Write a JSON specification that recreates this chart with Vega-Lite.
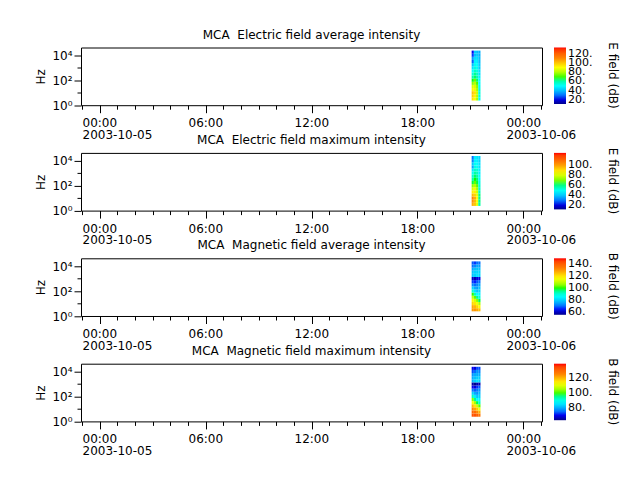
{
  "$schema": "https://vega.github.io/schema/vega-lite/v6.json",
  "padding": {"left": 34, "top": 27.5, "right": 5, "bottom": 5},
  "config": {
    "font": "DejaVu Sans",
    "view": {"stroke": "black", "strokeWidth": 1},
    "title": {"fontSize": 12, "fontWeight": "normal", "color": "black", "offset": 6},
    "axis": {"labelColor": "black", "tickColor": "black", "titleColor": "black", "labelFontSize": 12, "titleFontSize": 12, "titleFontWeight": "normal", "grid": false, "domain": false, "tickWidth": 1},
    "legend": {"orient": "right", "offset": 12, "padding": 0, "direction": "vertical", "gradientLength": 56.5, "gradientThickness": 12, "gradientStrokeWidth": 0, "labelFontSize": 11, "labelColor": "black", "labelOffset": 10, "labelOverlap": false, "titleOrient": "right", "titleFontSize": 12, "titleFontWeight": "normal", "titleColor": "black", "titleAnchor": "middle", "titlePadding": 14}
  },
  "datasets": {
    "chan": [
      {"ch": "c01", "flo": 2.371, "fhi": 4.217},
      {"ch": "c02", "flo": 4.217, "fhi": 7.499},
      {"ch": "c03", "flo": 7.499, "fhi": 13.34},
      {"ch": "c04", "flo": 13.34, "fhi": 23.71},
      {"ch": "c05", "flo": 23.71, "fhi": 42.17},
      {"ch": "c06", "flo": 42.17, "fhi": 74.99},
      {"ch": "c07", "flo": 74.99, "fhi": 133.4},
      {"ch": "c08", "flo": 133.4, "fhi": 237.1},
      {"ch": "c09", "flo": 237.1, "fhi": 421.7},
      {"ch": "c10", "flo": 421.7, "fhi": 749.9},
      {"ch": "c11", "flo": 749.9, "fhi": 1334},
      {"ch": "c12", "flo": 1334, "fhi": 2371},
      {"ch": "c13", "flo": 2371, "fhi": 4217},
      {"ch": "c14", "flo": 4217, "fhi": 7499},
      {"ch": "c15", "flo": 7499, "fhi": 13335},
      {"ch": "c16", "flo": 13335, "fhi": 23714}
    ],
    "eavg": [
      {"t0": "2003-10-05T21:04:00Z", "t1": "2003-10-05T21:11:30Z", "c01": 95, "c02": 98, "c03": 100, "c04": 92, "c05": 85, "c06": 75, "c07": 68, "c08": 60, "c09": 55, "c10": 50, "c11": 45, "c12": 40, "c13": 28, "c14": 35, "c15": 25, "c16": 22},
      {"t0": "2003-10-05T21:11:30Z", "t1": "2003-10-05T21:19:00Z", "c01": 90, "c02": 92, "c03": 95, "c04": 88, "c05": 85, "c06": 80, "c07": 72, "c08": 65, "c09": 62, "c10": 58, "c11": 55, "c12": 52, "c13": 48, "c14": 45, "c15": 40, "c16": 42},
      {"t0": "2003-10-05T21:19:00Z", "t1": "2003-10-05T21:26:30Z", "c01": 78, "c02": 80, "c03": 82, "c04": 78, "c05": 75, "c06": 70, "c07": 65, "c08": 60, "c09": 58, "c10": 55, "c11": 52, "c12": 50, "c13": 47, "c14": 45, "c15": 42, "c16": 40},
      {"t0": "2003-10-05T21:26:30Z", "t1": "2003-10-05T21:34:00Z", "c01": 52, "c02": 55, "c03": 55, "c04": 55, "c05": 52, "c06": 50, "c07": 50, "c08": 48, "c09": 45, "c10": 45, "c11": 42, "c12": 42, "c13": 40, "c14": 40, "c15": 38, "c16": 38}
    ],
    "emax": [
      {"t0": "2003-10-05T21:04:00Z", "t1": "2003-10-05T21:11:30Z", "c01": 98, "c02": 102, "c03": 104, "c04": 96, "c05": 88, "c06": 80, "c07": 72, "c08": 64, "c09": 58, "c10": 54, "c11": 50, "c12": 45, "c13": 36, "c14": 40, "c15": 32, "c16": 30},
      {"t0": "2003-10-05T21:11:30Z", "t1": "2003-10-05T21:19:00Z", "c01": 94, "c02": 96, "c03": 98, "c04": 92, "c05": 88, "c06": 84, "c07": 76, "c08": 68, "c09": 65, "c10": 62, "c11": 58, "c12": 55, "c13": 52, "c14": 50, "c15": 46, "c16": 46},
      {"t0": "2003-10-05T21:19:00Z", "t1": "2003-10-05T21:26:30Z", "c01": 82, "c02": 84, "c03": 86, "c04": 82, "c05": 78, "c06": 74, "c07": 68, "c08": 64, "c09": 62, "c10": 58, "c11": 56, "c12": 54, "c13": 50, "c14": 48, "c15": 46, "c16": 44},
      {"t0": "2003-10-05T21:26:30Z", "t1": "2003-10-05T21:34:00Z", "c01": 58, "c02": 60, "c03": 60, "c04": 60, "c05": 56, "c06": 55, "c07": 54, "c08": 52, "c09": 50, "c10": 48, "c11": 46, "c12": 46, "c13": 44, "c14": 44, "c15": 42, "c16": 42}
    ],
    "bavg": [
      {"t0": "2003-10-05T21:04:00Z", "t1": "2003-10-05T21:11:30Z", "c01": 130, "c02": 128, "c03": 122, "c04": 118, "c05": 110, "c06": 100, "c07": 90, "c08": 80, "c09": 72, "c10": 66, "c11": 60, "c12": 78, "c13": 78, "c14": 75, "c15": 70, "c16": 68},
      {"t0": "2003-10-05T21:11:30Z", "t1": "2003-10-05T21:19:00Z", "c01": 130, "c02": 126, "c03": 120, "c04": 112, "c05": 102, "c06": 92, "c07": 82, "c08": 76, "c09": 70, "c10": 65, "c11": 58, "c12": 80, "c13": 80, "c14": 78, "c15": 72, "c16": 66},
      {"t0": "2003-10-05T21:19:00Z", "t1": "2003-10-05T21:26:30Z", "c01": 128, "c02": 122, "c03": 115, "c04": 105, "c05": 95, "c06": 85, "c07": 78, "c08": 74, "c09": 72, "c10": 68, "c11": 62, "c12": 82, "c13": 80, "c14": 78, "c15": 75, "c16": 70},
      {"t0": "2003-10-05T21:26:30Z", "t1": "2003-10-05T21:34:00Z", "c01": 125, "c02": 118, "c03": 108, "c04": 98, "c05": 90, "c06": 84, "c07": 80, "c08": 78, "c09": 75, "c10": 70, "c11": 62, "c12": 80, "c13": 80, "c14": 78, "c15": 74, "c16": 70}
    ],
    "bmax": [
      {"t0": "2003-10-05T21:04:00Z", "t1": "2003-10-05T21:11:30Z", "c01": 133, "c02": 130, "c03": 125, "c04": 120, "c05": 112, "c06": 103, "c07": 93, "c08": 83, "c09": 76, "c10": 70, "c11": 65, "c12": 80, "c13": 80, "c14": 78, "c15": 73, "c16": 70},
      {"t0": "2003-10-05T21:11:30Z", "t1": "2003-10-05T21:19:00Z", "c01": 133, "c02": 129, "c03": 122, "c04": 115, "c05": 105, "c06": 95, "c07": 86, "c08": 80, "c09": 74, "c10": 69, "c11": 63, "c12": 83, "c13": 82, "c14": 80, "c15": 75, "c16": 69},
      {"t0": "2003-10-05T21:19:00Z", "t1": "2003-10-05T21:26:30Z", "c01": 131, "c02": 125, "c03": 118, "c04": 108, "c05": 98, "c06": 88, "c07": 82, "c08": 78, "c09": 76, "c10": 72, "c11": 66, "c12": 85, "c13": 83, "c14": 80, "c15": 78, "c16": 73},
      {"t0": "2003-10-05T21:26:30Z", "t1": "2003-10-05T21:34:00Z", "c01": 128, "c02": 121, "c03": 111, "c04": 101, "c05": 93, "c06": 87, "c07": 83, "c08": 81, "c09": 78, "c10": 74, "c11": 66, "c12": 83, "c13": 83, "c14": 80, "c15": 77, "c16": 73}
    ]
  },
  "bounds": "flush",
  "spacing": 47.4,
  "resolve": {"scale": {"x": "independent", "y": "independent", "color": "independent"}, "legend": {"color": "independent"}},
  "vconcat": [
    {
      "title": "MCA\u00a0 Electric field average intensity",
      "width": 461, "height": 57.7,
      "data": {"name": "eavg"},
      "transform": [
        {"fold": ["c01","c02","c03","c04","c05","c06","c07","c08","c09","c10","c11","c12","c13","c14","c15","c16"], "as": ["ch", "v"]},
        {"lookup": "ch", "from": {"data": {"name": "chan"}, "key": "ch", "fields": ["flo", "fhi"]}}
      ],
      "layer": [
        {
          "mark": {"type": "rect"},
          "encoding": {
            "x": {"field": "t0", "type": "temporal", "scale": {"type": "utc", "nice": false, "domain": [1065308220000, 1065402180000]},
                  "axis": {"orient": "bottom", "title": null, "values": [1065312000000, 1065333600000, 1065355200000, 1065376800000, 1065398400000], "tickSize": 7.5, "labelAlign": "left", "labelOffset": -17.5, "labelBaseline": "top", "labelPadding": 5, "labelFlush": false, "labelOverlap": false, "labelExpr": "utcFormat(datum.value, '%H:%M')"}},
            "x2": {"field": "t1"},
            "y": {"field": "flo", "type": "quantitative", "scale": {"type": "log", "domain": [1, 42000], "nice": false},
                  "axis": {"orient": "left", "title": "Hz", "values": [1, 100, 10000], "tickSize": 7, "labelPadding": 2, "titlePadding": 4, "labelExpr": "datum.value == 1 ? '10⁰' : datum.value == 100 ? '10²' : '10⁴'"}},
            "y2": {"field": "fhi"},
            "color": {"field": "v", "type": "quantitative",
                      "scale": {"clamp": true, "domain": [11, 23.2, 50.0, 68.3, 90.3, 111.0, 133], "range": ["#00008c", "#0000ff", "#00ffff", "#00ff00", "#ffff00", "#ff8000", "#ff0000"]},
                      "legend": {"type": "gradient", "title": "E field (dB)", "values": [20, 40, 60, 80, 100, 120], "labelExpr": "datum.label + '.'"}}
          }
        },
        {
          "mark": {"type": "rect", "opacity": 0},
          "encoding": {
            "x": {"field": "t0", "type": "temporal", "scale": {"type": "utc", "nice": false, "domain": [1065308220000, 1065402180000]},
                  "axis": {"orient": "bottom", "title": null, "values": [1065308400000, 1065312000000, 1065315600000, 1065319200000, 1065322800000, 1065326400000, 1065330000000, 1065333600000, 1065337200000, 1065340800000, 1065344400000, 1065348000000, 1065351600000, 1065355200000, 1065358800000, 1065362400000, 1065366000000, 1065369600000, 1065373200000, 1065376800000, 1065380400000, 1065384000000, 1065387600000, 1065391200000, 1065394800000, 1065398400000, 1065402000000], "tickSize": 4, "labelAlign": "left", "labelOffset": -17.5, "labelBaseline": "top", "labelPadding": 20, "labelFlush": false, "labelOverlap": false, "labelExpr": "utchours(datum.value) == 0 ? utcFormat(datum.value, '%Y-%m-%d') : ''"}},
            "x2": {"field": "t1"},
            "y": {"field": "flo", "type": "quantitative", "scale": {"type": "log", "domain": [1, 42000], "nice": false},
                  "axis": {"orient": "left", "title": null, "values": [10, 1000], "tickSize": 4, "labels": false}},
            "y2": {"field": "fhi"}
          }
        }
      ],
      "resolve": {"axis": {"x": "independent", "y": "independent"}}
    },
    {
      "title": "MCA\u00a0 Electric field maximum intensity",
      "width": 461, "height": 57.7,
      "data": {"name": "emax"},
      "transform": [
        {"fold": ["c01","c02","c03","c04","c05","c06","c07","c08","c09","c10","c11","c12","c13","c14","c15","c16"], "as": ["ch", "v"]},
        {"lookup": "ch", "from": {"data": {"name": "chan"}, "key": "ch", "fields": ["flo", "fhi"]}}
      ],
      "layer": [
        {
          "mark": {"type": "rect"},
          "encoding": {
            "x": {"field": "t0", "type": "temporal", "scale": {"type": "utc", "nice": false, "domain": [1065308220000, 1065402180000]},
                  "axis": {"orient": "bottom", "title": null, "values": [1065312000000, 1065333600000, 1065355200000, 1065376800000, 1065398400000], "tickSize": 7.5, "labelAlign": "left", "labelOffset": -17.5, "labelBaseline": "top", "labelPadding": 5, "labelFlush": false, "labelOverlap": false, "labelExpr": "utcFormat(datum.value, '%H:%M')"}},
            "x2": {"field": "t1"},
            "y": {"field": "flo", "type": "quantitative", "scale": {"type": "log", "domain": [1, 42000], "nice": false},
                  "axis": {"orient": "left", "title": "Hz", "values": [1, 100, 10000], "tickSize": 7, "labelPadding": 2, "titlePadding": 4, "labelExpr": "datum.value == 1 ? '10⁰' : datum.value == 100 ? '10²' : '10⁴'"}},
            "y2": {"field": "fhi"},
            "color": {"field": "v", "type": "quantitative",
                      "scale": {"clamp": true, "domain": [12, 23.3, 48.2, 65.1, 85.5, 104.7, 125], "range": ["#00008c", "#0000ff", "#00ffff", "#00ff00", "#ffff00", "#ff8000", "#ff0000"]},
                      "legend": {"type": "gradient", "title": "E field (dB)", "values": [20, 40, 60, 80, 100], "labelExpr": "datum.label + '.'"}}
          }
        },
        {
          "mark": {"type": "rect", "opacity": 0},
          "encoding": {
            "x": {"field": "t0", "type": "temporal", "scale": {"type": "utc", "nice": false, "domain": [1065308220000, 1065402180000]},
                  "axis": {"orient": "bottom", "title": null, "values": [1065308400000, 1065312000000, 1065315600000, 1065319200000, 1065322800000, 1065326400000, 1065330000000, 1065333600000, 1065337200000, 1065340800000, 1065344400000, 1065348000000, 1065351600000, 1065355200000, 1065358800000, 1065362400000, 1065366000000, 1065369600000, 1065373200000, 1065376800000, 1065380400000, 1065384000000, 1065387600000, 1065391200000, 1065394800000, 1065398400000, 1065402000000], "tickSize": 4, "labelAlign": "left", "labelOffset": -17.5, "labelBaseline": "top", "labelPadding": 20, "labelFlush": false, "labelOverlap": false, "labelExpr": "utchours(datum.value) == 0 ? utcFormat(datum.value, '%Y-%m-%d') : ''"}},
            "x2": {"field": "t1"},
            "y": {"field": "flo", "type": "quantitative", "scale": {"type": "log", "domain": [1, 42000], "nice": false},
                  "axis": {"orient": "left", "title": null, "values": [10, 1000], "tickSize": 4, "labels": false}},
            "y2": {"field": "fhi"}
          }
        }
      ],
      "resolve": {"axis": {"x": "independent", "y": "independent"}}
    },
    {
      "title": "MCA\u00a0 Magnetic field average intensity",
      "width": 461, "height": 57.7,
      "data": {"name": "bavg"},
      "transform": [
        {"fold": ["c01","c02","c03","c04","c05","c06","c07","c08","c09","c10","c11","c12","c13","c14","c15","c16"], "as": ["ch", "v"]},
        {"lookup": "ch", "from": {"data": {"name": "chan"}, "key": "ch", "fields": ["flo", "fhi"]}}
      ],
      "layer": [
        {
          "mark": {"type": "rect"},
          "encoding": {
            "x": {"field": "t0", "type": "temporal", "scale": {"type": "utc", "nice": false, "domain": [1065308220000, 1065402180000]},
                  "axis": {"orient": "bottom", "title": null, "values": [1065312000000, 1065333600000, 1065355200000, 1065376800000, 1065398400000], "tickSize": 7.5, "labelAlign": "left", "labelOffset": -17.5, "labelBaseline": "top", "labelPadding": 5, "labelFlush": false, "labelOverlap": false, "labelExpr": "utcFormat(datum.value, '%H:%M')"}},
            "x2": {"field": "t1"},
            "y": {"field": "flo", "type": "quantitative", "scale": {"type": "log", "domain": [1, 42000], "nice": false},
                  "axis": {"orient": "left", "title": "Hz", "values": [1, 100, 10000], "tickSize": 7, "labelPadding": 2, "titlePadding": 4, "labelExpr": "datum.value == 1 ? '10⁰' : datum.value == 100 ? '10²' : '10⁴'"}},
            "y2": {"field": "fhi"},
            "color": {"field": "v", "type": "quantitative",
                      "scale": {"clamp": true, "domain": [55, 64.5, 85.4, 99.7, 116.8, 132.9, 150], "range": ["#00008c", "#0000ff", "#00ffff", "#00ff00", "#ffff00", "#ff8000", "#ff0000"]},
                      "legend": {"type": "gradient", "title": "B field (dB)", "values": [60, 80, 100, 120, 140], "labelExpr": "datum.label + '.'"}}
          }
        },
        {
          "mark": {"type": "rect", "opacity": 0},
          "encoding": {
            "x": {"field": "t0", "type": "temporal", "scale": {"type": "utc", "nice": false, "domain": [1065308220000, 1065402180000]},
                  "axis": {"orient": "bottom", "title": null, "values": [1065308400000, 1065312000000, 1065315600000, 1065319200000, 1065322800000, 1065326400000, 1065330000000, 1065333600000, 1065337200000, 1065340800000, 1065344400000, 1065348000000, 1065351600000, 1065355200000, 1065358800000, 1065362400000, 1065366000000, 1065369600000, 1065373200000, 1065376800000, 1065380400000, 1065384000000, 1065387600000, 1065391200000, 1065394800000, 1065398400000, 1065402000000], "tickSize": 4, "labelAlign": "left", "labelOffset": -17.5, "labelBaseline": "top", "labelPadding": 20, "labelFlush": false, "labelOverlap": false, "labelExpr": "utchours(datum.value) == 0 ? utcFormat(datum.value, '%Y-%m-%d') : ''"}},
            "x2": {"field": "t1"},
            "y": {"field": "flo", "type": "quantitative", "scale": {"type": "log", "domain": [1, 42000], "nice": false},
                  "axis": {"orient": "left", "title": null, "values": [10, 1000], "tickSize": 4, "labels": false}},
            "y2": {"field": "fhi"}
          }
        }
      ],
      "resolve": {"axis": {"x": "independent", "y": "independent"}}
    },
    {
      "title": "MCA\u00a0 Magnetic field maximum intensity",
      "width": 461, "height": 57.7,
      "data": {"name": "bmax"},
      "transform": [
        {"fold": ["c01","c02","c03","c04","c05","c06","c07","c08","c09","c10","c11","c12","c13","c14","c15","c16"], "as": ["ch", "v"]},
        {"lookup": "ch", "from": {"data": {"name": "chan"}, "key": "ch", "fields": ["flo", "fhi"]}}
      ],
      "layer": [
        {
          "mark": {"type": "rect"},
          "encoding": {
            "x": {"field": "t0", "type": "temporal", "scale": {"type": "utc", "nice": false, "domain": [1065308220000, 1065402180000]},
                  "axis": {"orient": "bottom", "title": null, "values": [1065312000000, 1065333600000, 1065355200000, 1065376800000, 1065398400000], "tickSize": 7.5, "labelAlign": "left", "labelOffset": -17.5, "labelBaseline": "top", "labelPadding": 5, "labelFlush": false, "labelOverlap": false, "labelExpr": "utcFormat(datum.value, '%H:%M')"}},
            "x2": {"field": "t1"},
            "y": {"field": "flo", "type": "quantitative", "scale": {"type": "log", "domain": [1, 42000], "nice": false},
                  "axis": {"orient": "left", "title": "Hz", "values": [1, 100, 10000], "tickSize": 7, "labelPadding": 2, "titlePadding": 4, "labelExpr": "datum.value == 1 ? '10⁰' : datum.value == 100 ? '10²' : '10⁴'"}},
            "y2": {"field": "fhi"},
            "color": {"field": "v", "type": "quantitative",
                      "scale": {"clamp": true, "domain": [63.5, 71.1, 87.7, 99.0, 112.6, 125.4, 139], "range": ["#00008c", "#0000ff", "#00ffff", "#00ff00", "#ffff00", "#ff8000", "#ff0000"]},
                      "legend": {"type": "gradient", "title": "B field (dB)", "values": [80, 100, 120], "labelExpr": "datum.label + '.'"}}
          }
        },
        {
          "mark": {"type": "rect", "opacity": 0},
          "encoding": {
            "x": {"field": "t0", "type": "temporal", "scale": {"type": "utc", "nice": false, "domain": [1065308220000, 1065402180000]},
                  "axis": {"orient": "bottom", "title": null, "values": [1065308400000, 1065312000000, 1065315600000, 1065319200000, 1065322800000, 1065326400000, 1065330000000, 1065333600000, 1065337200000, 1065340800000, 1065344400000, 1065348000000, 1065351600000, 1065355200000, 1065358800000, 1065362400000, 1065366000000, 1065369600000, 1065373200000, 1065376800000, 1065380400000, 1065384000000, 1065387600000, 1065391200000, 1065394800000, 1065398400000, 1065402000000], "tickSize": 4, "labelAlign": "left", "labelOffset": -17.5, "labelBaseline": "top", "labelPadding": 20, "labelFlush": false, "labelOverlap": false, "labelExpr": "utchours(datum.value) == 0 ? utcFormat(datum.value, '%Y-%m-%d') : ''"}},
            "x2": {"field": "t1"},
            "y": {"field": "flo", "type": "quantitative", "scale": {"type": "log", "domain": [1, 42000], "nice": false},
                  "axis": {"orient": "left", "title": null, "values": [10, 1000], "tickSize": 4, "labels": false}},
            "y2": {"field": "fhi"}
          }
        }
      ],
      "resolve": {"axis": {"x": "independent", "y": "independent"}}
    }
  ]
}
